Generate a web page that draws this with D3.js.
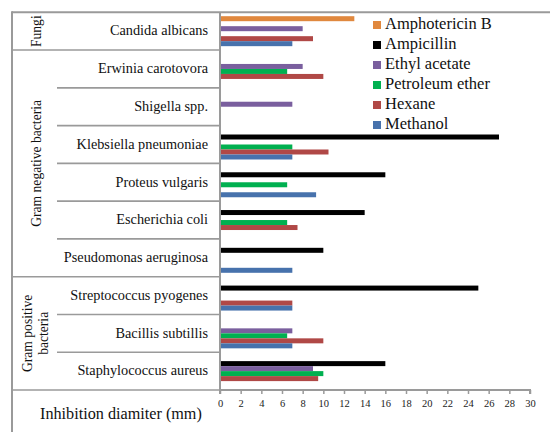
<!DOCTYPE html>
<html><head><meta charset="utf-8">
<script src="https://cdn.jsdelivr.net/npm/d3@7"></script>
<style>html,body{margin:0;padding:0;background:#fff;}svg{display:block;}</style>
</head><body>
<svg id="chart" width="550" height="432"></svg>
<script>
// ---- data ----
const categories = ["Candida albicans","Erwinia carotovora","Shigella spp.","Klebsiella pneumoniae","Proteus vulgaris","Escherichia coli","Pseudomonas aeruginosa","Streptococcus pyogenes","Bacillis subtillis","Staphylococcus aureus"];
const groupNames = [["Fungi"],["Gram negative bacteria"],["Gram positive","bacteria"]];
const groupSizes = [1,6,3];
const seriesNames = ["Amphotericin B","Ampicillin","Ethyl acetate","Petroleum ether","Hexane","Methanol"];
const seriesColors = ["#E0883E","#000000","#7A5F9E","#00B050","#B04846","#4772AC"];
const amphotericinB = [13,null,null,null,null,null,null,null,null,null];
const ampicillin    = [null,null,null,27,16,14,10,25,null,16];
const ethylAcetate  = [8,8,7,null,null,null,null,null,7,9];
const petroleumEther= [null,6.5,null,7,6.5,6.5,null,null,6.5,10];
const hexane        = [9,10,null,10.5,null,7.5,null,7,10,9.5];
const methanol      = [7,null,null,7,9.3,null,7,7,7,null];
const seriesValues = [amphotericinB,ampicillin,ethylAcetate,petroleumEther,hexane,methanol];
const xTicks = d3.range(0,31,2);
const xTitle = "Inhibition diamiter (mm)";

(function(){
// ---- layout ----
const svg = d3.select("#chart");
const FONT = "Liberation Serif";
const L = 12, T = 12.3, plotL = 220, plotR = 530, plotB = 390, nameX = 57;
const lineCol = "#9a9a9a";

const x = d3.scaleLinear().domain([0,30]).range([plotL,plotR]);
const y = d3.scaleBand().domain(categories).range([T,plotB]).padding(0);
const yi = d3.scaleBand().domain(seriesNames).range([0,y.bandwidth()]).paddingInner(0).paddingOuter(0.78);

// bars
seriesNames.forEach((s,si)=>{
  const data = categories.map((c,i)=>({c, v: seriesValues[si][i]})).filter(d=>d.v!=null);
  svg.append("g").selectAll("rect").data(data).join("rect")
    .attr("x", x(0)+1)
    .attr("y", d=>y(d.c)+yi(s))
    .attr("width", d=>x(d.v)-x(0)-1)
    .attr("height", yi.bandwidth())
    .attr("fill", seriesColors[si]);
});

// table lines
const g = svg.append("g").attr("stroke", lineCol).attr("fill","none");
g.append("line").attr("x1",L).attr("x2",550).attr("y1",T).attr("y2",T).attr("stroke-width",2);
g.append("line").attr("x1",L).attr("x2",L).attr("y1",T-1).attr("y2",432).attr("stroke-width",2);
let cum = 0; const groupBounds=[];
groupSizes.forEach(n=>{groupBounds.push(cum); cum+=n;});
categories.forEach((c,i)=>{
  if(i===0) return;
  const isGroup = groupBounds.includes(i);
  g.append("line").attr("x1", isGroup?L:nameX).attr("x2",plotL).attr("y1",y(c)).attr("y2",y(c)).attr("stroke-width",1.6);
});
g.append("line").attr("x1",L).attr("x2",plotL).attr("y1",plotB).attr("y2",plotB).attr("stroke-width",1.6);
g.append("line").attr("x1",plotL).attr("x2",plotL).attr("y1",T).attr("y2",plotB).attr("stroke-width",2);

// x axis
const xAxis = d3.axisBottom(x).tickValues(xTicks).tickSize(4).tickPadding(6);
const ax = svg.append("g").attr("transform",`translate(0,${plotB})`).call(xAxis);
ax.select(".domain").attr("stroke",lineCol).attr("stroke-width",2).attr("d",`M${plotL},4V0H${plotR}V4`);
ax.selectAll(".tick line").attr("stroke",lineCol).attr("stroke-width",1.5);
ax.selectAll(".tick text").attr("font-family",FONT).attr("font-size",10.5).attr("fill","#222");

// category labels
svg.append("g").selectAll("text").data(categories).join("text")
  .attr("x",208).attr("y",d=>y(d)+y.bandwidth()/2+1)
  .attr("text-anchor","end").attr("dominant-baseline","middle")
  .attr("font-family",FONT).attr("font-size",14.3).attr("fill","#111")
  .text(d=>d);

// group labels
groupNames.forEach((lines,gi)=>{
  const y0 = y(categories[groupBounds[gi]]);
  const y1 = y0 + groupSizes[gi]*y.bandwidth();
  const cy = (y0+y1)/2;
  const cx = lines.length===1 ? 36 : 35;
  const t = svg.append("text").attr("transform",`translate(${cx},${cy}) rotate(-90)`)
    .attr("text-anchor","middle").attr("font-family",FONT).attr("font-size",13.6).attr("fill","#111");
  lines.forEach((ln,li)=>{
    t.append("tspan").attr("x",0).attr("dy", li===0 ? (lines.length===1? "0.35em" : `${0.35-0.6*(lines.length-1)}em`) : "1.2em").text(ln);
  });
});

// axis title (size fitted to span x 40..202)
const title = svg.append("text").attr("x",40).attr("y",419).attr("font-family",FONT).attr("font-size",16).attr("fill","#111").text(xTitle);
const tw = title.node().getComputedTextLength();
if (tw > 0) title.attr("font-size", 16*162/tw);

// legend
const lg = svg.append("g");
seriesNames.forEach((s,i)=>{
  const cy = 25 + i*20;
  lg.append("rect").attr("x",373).attr("y",cy-4).attr("width",8).attr("height",8).attr("fill",seriesColors[i]);
  lg.append("text").attr("x",385).attr("y",cy).attr("dominant-baseline","middle")
    .attr("font-family",FONT).attr("font-size",16.5).attr("fill","#111").text(s);
});
})();
</script>
</body></html>
